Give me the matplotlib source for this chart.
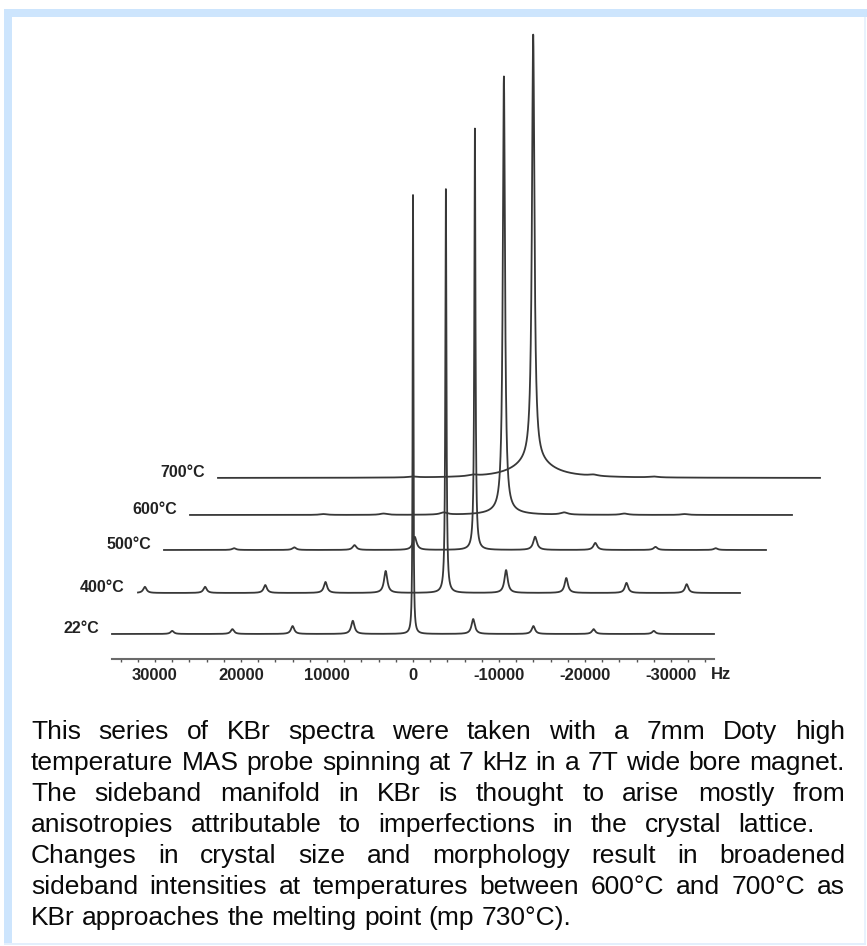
import numpy as np
import matplotlib
matplotlib.use('Agg')
import matplotlib.pyplot as plt
from matplotlib import transforms
from matplotlib.patches import Rectangle

W, H = 867, 946

# spectra: one entry per temperature
temps = ['22°C', '400°C', '500°C', '600°C', '700°C']
centre_hz = [0, -800, -1150, -1500, -1650]
peak_height = [100, 92, 96, 99, 97]
peak_hwhm = [50, 75, 80, 150, 175]
broad_height = [0, 0, 0, 0.9, 4.0]
broad_hwhm = [1, 1, 1, 1700, 2500]
spin_rate = 7000
# spinning sidebands, orders +1..+5 (high Hz side) and -1..-5 (low Hz side)
sb_plus = [[3.0, 1.8, 1.1, 0.7, 0.0],
           [5.0, 2.5, 1.8, 1.4, 1.4],
           [3.0, 1.1, 0.6, 0.4, 0.0],
           [0.5, 0.3, 0.2, 0.0, 0.0],
           [0.3, 0.2, 0.0, 0.0, 0.0]]
sb_minus = [[3.4, 1.8, 1.1, 0.7, 0.0],
            [5.2, 3.4, 2.3, 2.0, 0.0],
            [3.0, 1.6, 0.7, 0.4, 0.0],
            [0.5, 0.3, 0.2, 0.0, 0.0],
            [0.3, 0.2, 0.0, 0.0, 0.0]]
sb_hwhm = [230, 230, 260, 500, 600]

tick_vals = [30000, 20000, 10000, 0, -10000, -20000, -30000]
tick_text = ['30000', '20000', '10000', '0', '-10000', '-20000', '-30000']

caption = [
    'This series of KBr spectra were taken with a 7mm Doty high',
    'temperature MAS probe spinning at 7 kHz in a 7T wide bore magnet.',
    'The sideband manifold in KBr is thought to arise mostly from',
    'anisotropies attributable to imperfections in the crystal lattice.',
    'Changes in crystal size and morphology result in broadened',
    'sideband intensities at temperatures between 600°C and 700°C as',
    'KBr approaches the melting point (mp 730°C).',
]

# stacking offsets of each trace (pixels, right / up)
shift_x = [0, 26, 52, 78, 106]
shift_y = [0, 41, 84, 119, 156]


def lorentz(x, x0, h, g):
    return h * g**2 / ((x - x0)**2 + g**2)


fig = plt.figure(figsize=(W / 100, H / 100), dpi=100)
fig.patch.set_facecolor('white')

# light blue frame
blue = '#cde5fd'
fig.add_artist(Rectangle((4 / W, 1 - 17 / H), 863 / W, 8 / H, transform=fig.transFigure,
                         facecolor=blue, edgecolor='none'))
fig.add_artist(Rectangle((4 / W, 3 / H), 8 / W, 1 - 20 / H, transform=fig.transFigure,
                         facecolor=blue, edgecolor='none'))
fig.add_artist(Rectangle((864 / W, 3 / H), 2 / W, 1 - 20 / H, transform=fig.transFigure,
                         facecolor='#e8f2fd', edgecolor='none'))
fig.add_artist(Rectangle((4 / W, 1 / H), 862 / W, 2 / H, transform=fig.transFigure,
                         facecolor='#e3effc', edgecolor='none'))

ax = fig.add_axes([112 / W, (H - 659) / H, 602 / W, 629 / H])
ax.set_xlim(35000, -35000)
ax.set_ylim(-5.7, 137.6)
ax.patch.set_alpha(0)
for s in ['left', 'top', 'right']:
    ax.spines[s].set_visible(False)
ax.spines['bottom'].set_color('#6a6a6a')
ax.spines['bottom'].set_linewidth(1.5)
ax.set_yticks([])
ax.set_xticks(tick_vals)
ax.set_xticklabels(tick_text, fontfamily='Liberation Sans', fontweight='bold',
                   fontsize=12, color='#222222')
ax.set_xticks(np.arange(-34000, 34001, 2000), minor=True)
ax.tick_params(axis='x', which='both', length=2.5, width=1, color='#555555', pad=4)
ax.annotate('Hz', xy=(1, 0), xycoords='axes fraction', xytext=(-2, -11),
            textcoords='offset points', ha='left', va='center',
            fontfamily='Liberation Sans', fontweight='bold', fontsize=12, color='#222222')

hz = np.linspace(35000, -35000, 14001)
for i in range(len(temps)):
    y = lorentz(hz, centre_hz[i], peak_height[i], peak_hwhm[i])
    y += lorentz(hz, centre_hz[i], broad_height[i], broad_hwhm[i])
    for n in range(5):
        y += lorentz(hz, centre_hz[i] + (n + 1) * spin_rate, sb_plus[i][n], sb_hwhm[i])
        y += lorentz(hz, centre_hz[i] - (n + 1) * spin_rate, sb_minus[i][n], sb_hwhm[i])
    tr = ax.transData + transforms.ScaledTranslation(shift_x[i] / 100, shift_y[i] / 100,
                                                     fig.dpi_scale_trans)
    ax.plot(hz, y, color='#383838', lw=1.3, transform=tr, clip_on=False, zorder=10 - i)
    lab_tr = tr + transforms.ScaledTranslation(-0.13, 0.05, fig.dpi_scale_trans)
    ax.text(35000, 0, temps[i], transform=lab_tr, ha='right', va='center',
            fontfamily='Liberation Sans', fontweight='bold', fontsize=11.5, color='#222222')

# justified caption
fig.canvas.draw()
rend = fig.canvas.get_renderer()
left, right = 31, 845
fs = 19
for i, line in enumerate(caption):
    words = line.split()
    yb = 1 - (739 + i * 31) / H
    objs = [fig.text(0, yb, w, fontsize=fs, fontfamily='Liberation Sans',
                     color='#0a0a0a', va='baseline') for w in words]
    widths = [o.get_window_extent(rend).width for o in objs]
    if i < len(caption) - 1:
        edge = 815 if i == 3 else right
        gap = (edge - left - sum(widths)) / (len(words) - 1)
    else:
        gap = 0.278 * fs * 100 / 72
    x = left
    for o, w in zip(objs, widths):
        o.set_x(x / W)
        x += w + gap

fig.savefig('out.png', dpi=100)
